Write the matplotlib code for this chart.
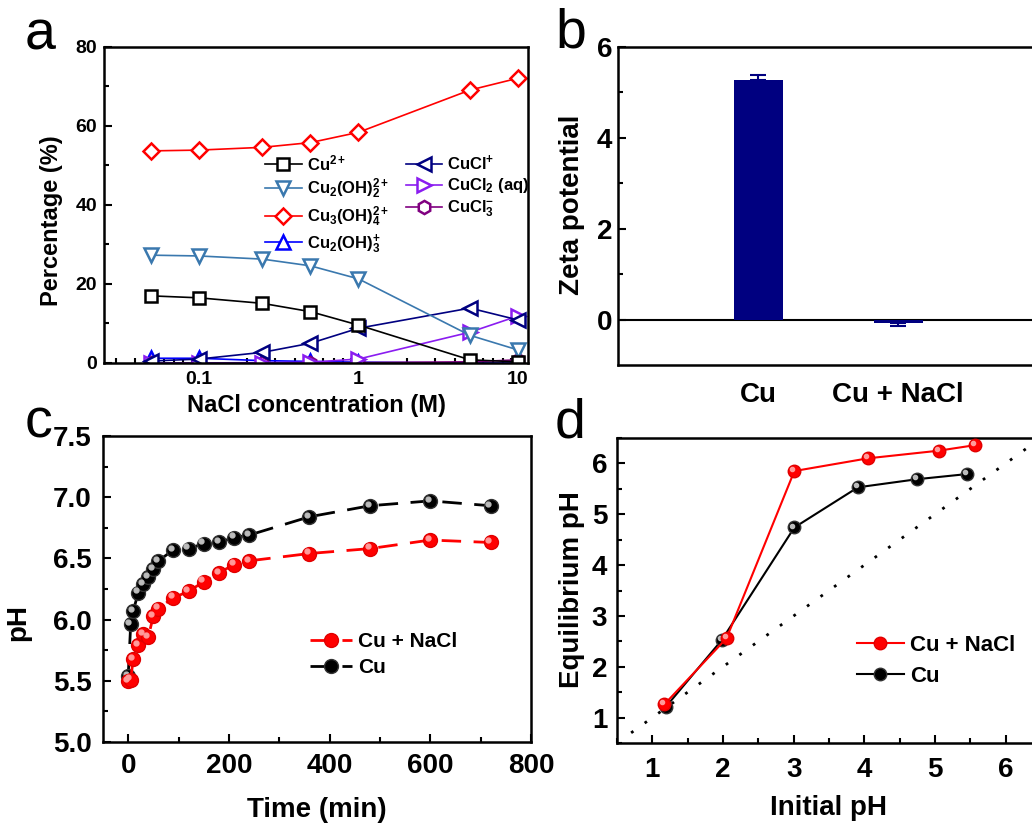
import matplotlib
matplotlib.use("Agg")
import matplotlib.pyplot as plt
import numpy as np
from matplotlib.ticker import MultipleLocator, FixedLocator, NullFormatter, LogLocator
from matplotlib.transforms import offset_copy

plt.rcParams['font.family'] = 'Liberation Sans'
plt.rcParams['font.weight'] = 'bold'
plt.rcParams['mathtext.fontset'] = 'custom'
plt.rcParams['mathtext.rm'] = 'Liberation Sans:bold'
plt.rcParams['mathtext.it'] = 'Liberation Sans:bold'
plt.rcParams['mathtext.bf'] = 'Liberation Sans:bold'
plt.rcParams['axes.linewidth'] = 1.8

# ---- panel a: species distribution
nacl = [0.05, 0.1, 0.25, 0.5, 1, 5, 10]
cu2 = [17.0, 16.5, 15.1, 13.0, 9.6, 0.8, 0.3]
cu2oh2 = [27.3, 27.1, 26.3, 24.6, 21.3, 7.0, 3.3]
cu3oh4 = [53.7, 53.9, 54.6, 55.8, 58.4, 69.1, 72.1]
cu2oh3 = [1.2, 1.2, 0.6, 0.4, 0.2, 0.0, 0.0]
cucl = [0.5, 1.0, 2.7, 5.0, 8.8, 13.9, 10.9]
cucl2 = [0.0, 0.0, 0.1, 0.2, 1.0, 7.8, 11.9]
cucl3 = [0.0, 0.0, 0.0, 0.0, 0.1, 0.3, 0.8]
species_labels = [r'Cu$^{2+}$', r'Cu$_2$(OH)$_2^{2+}$', r'Cu$_3$(OH)$_4^{2+}$',
                  r'Cu$_2$(OH)$_3^{+}$', r'CuCl$^{+}$', r'CuCl$_2$ (aq)', r'CuCl$_3^{-}$']

# ---- panel b: zeta potential
zeta_cats = ['Cu', 'Cu + NaCl']
zeta_vals = [5.28, -0.08]
zeta_err_lo = [0.0, 0.07]
zeta_err_hi = [0.10, 0.0]

# ---- panel c: pH vs time
t_nacl = [0, 5, 10, 20, 30, 40, 50, 60, 90, 120, 150, 180, 210, 240, 360, 480, 600, 720]
ph_nacl = [5.50, 5.51, 5.68, 5.79, 5.88, 5.86, 6.03, 6.09, 6.18, 6.23, 6.31, 6.38, 6.45, 6.48,
           6.54, 6.58, 6.65, 6.63]
t_cu = [0, 5, 10, 20, 30, 40, 50, 60, 90, 120, 150, 180, 210, 240, 360, 480, 600, 720]
ph_cu = [5.54, 5.96, 6.07, 6.22, 6.29, 6.35, 6.41, 6.48, 6.57, 6.58, 6.62, 6.63, 6.67, 6.69,
         6.84, 6.93, 6.97, 6.93]

# ---- panel d: equilibrium pH
init_nacl = [1.17, 2.05, 3.01, 4.05, 5.05, 5.57]
eq_nacl = [1.26, 2.56, 5.85, 6.10, 6.25, 6.36]
init_cu = [1.19, 1.98, 3.01, 3.91, 4.75, 5.45]
eq_cu = [1.21, 2.52, 4.74, 5.53, 5.69, 5.79]

W, H = 1032, 825
fig = plt.figure(figsize=(W / 100, H / 100), dpi=100)


def box(l, r, t, b):
    return [l / W, 1 - b / H, (r - l) / W, (b - t) / H]


def style_ticks(ax, size, padx, pady):
    ax.tick_params(which='both', direction='in', top=False, right=False, width=1.5)
    ax.tick_params(which='major', length=6)
    ax.tick_params(which='minor', length=3.5)
    ax.tick_params(axis='x', labelsize=size, pad=padx)
    ax.tick_params(axis='y', labelsize=size, pad=pady)


def place_labels(ax, xl, yl, xpos, ypos, size):
    ax.set_xlabel(xl, fontsize=size, fontweight='bold')
    ax.set_ylabel(yl, fontsize=size, fontweight='bold')
    ax.xaxis.label.set(va='center', ha='center')
    ax.yaxis.label.set(va='center', ha='center')
    ax.xaxis.set_label_coords(*xpos)
    ax.yaxis.set_label_coords(*ypos)


# ================= a
ax = fig.add_axes(box(104, 528, 47, 363))
series = [cu2, cu2oh2, cu3oh4, cu2oh3, cucl, cucl2, cucl3]
colors = ['black', '#3a78ae', '#ff0000', '#0000ff', '#000080', '#8a1cf0', '#800080']
markers = ['s', 'v', 'D', '^', '<', '>', 'h']
msizes = [8.5, 10.5, 8.5, 10.5, 10.5, 10.5, 9.5]
order = [3, 6, 5, 4, 1, 0, 2]
handles = [None] * 7
for i in order:
    handles[i], = ax.plot(nacl, series[i], color=colors[i], marker=markers[i], ms=msizes[i],
                          mfc='white', mec=colors[i], mew=1.8, lw=1.2, label=species_labels[i])
ax.set_xscale('log')
ax.set_xlim(0.0254, 11.55)
ax.set_ylim(0, 80)
ax.set_xticks([0.1, 1, 10])
ax.set_xticklabels(['0.1', '1', '10'])
ax.xaxis.set_minor_locator(LogLocator(base=10, subs=np.arange(2, 10)))
ax.xaxis.set_minor_formatter(NullFormatter())
ax.yaxis.set_major_locator(MultipleLocator(20))
ax.yaxis.set_minor_locator(MultipleLocator(10))
style_ticks(ax, 14, 6, 5)
place_labels(ax, 'NaCl concentration (M)', 'Percentage (%)', (0.502, -0.133), (-0.123, 0.449), 17)
ax.legend(handles=handles, ncol=2, loc='upper left', bbox_to_anchor=(0.38, 0.664), frameon=False,
          fontsize=12, handlelength=2.2, handletextpad=0.3, columnspacing=1.0, labelspacing=0.2,
          borderpad=0, borderaxespad=0)

# ================= b
ax = fig.add_axes(box(618, 1038, 47, 365))
xb = np.arange(1, len(zeta_cats) + 1)
ax.bar(xb, zeta_vals, width=0.35, color='#000080', zorder=2)
ax.errorbar(xb, zeta_vals, yerr=[zeta_err_lo, zeta_err_hi], fmt='none', ecolor='#000080',
            elinewidth=1.5, capsize=6, capthick=1.5, zorder=3)
ax.axhline(0, color='black', lw=1.5, zorder=1)
ax.set_xlim(0, 3)
ax.set_ylim(-1, 6)
ax.set_xticks(xb)
ax.set_xticklabels(zeta_cats)
ax.yaxis.set_major_locator(FixedLocator([0, 2, 4, 6]))
ax.yaxis.set_minor_locator(FixedLocator([1, 3, 5]))
style_ticks(ax, 20, 12, 4)
ax.tick_params(axis='x', length=0)
ax.set_ylabel('Zeta potential', fontsize=20, fontweight='bold')
ax.yaxis.label.set(va='center', ha='center')
ax.yaxis.set_label_coords(-0.1095, 0.503)

# ================= c
ax = fig.add_axes(box(103, 531, 436, 742))
ax.plot(t_cu, ph_cu, color='black', lw=2, dashes=(7, 4.5), marker='o', ms=10,
        mfc='black', mec='#333333', label='Cu', zorder=2)
ax.plot(t_nacl, ph_nacl, color='#ff0000', lw=2, dashes=(7, 4.5), marker='o', ms=10,
        mfc='#ff0000', mec='#e00000', label='Cu + NaCl', zorder=3)
hl = offset_copy(ax.transData, fig=fig, x=-1.6, y=1.6, units='points')
ax.plot(t_cu, ph_cu, 'o', ms=3.5, color='#bbbbbb', transform=hl, zorder=2.5)
ax.plot(t_nacl, ph_nacl, 'o', ms=3.5, color='#ff9a9a', transform=hl, zorder=3.5)
ax.set_xlim(-50, 800)
ax.set_ylim(5.0, 7.5)
ax.xaxis.set_major_locator(MultipleLocator(200))
ax.xaxis.set_minor_locator(MultipleLocator(100))
ax.yaxis.set_major_locator(MultipleLocator(0.5))
ax.yaxis.set_minor_locator(MultipleLocator(0.25))
ax.yaxis.set_major_formatter(matplotlib.ticker.FormatStrFormatter('%.1f'))
style_ticks(ax, 20, 8, 8)
place_labels(ax, 'Time (min)', 'pH', (0.5, -0.222), (-0.199, 0.392), 20)
hs, ls = ax.get_legend_handles_labels()
ax.legend(hs[::-1], ls[::-1], loc='upper left', bbox_to_anchor=(0.484, 0.36), frameon=False,
          fontsize=15, handlelength=2.0, handletextpad=0.3, labelspacing=0.35,
          borderpad=0, borderaxespad=0)

# ================= d
ax = fig.add_axes(box(617, 1041, 438, 743))
ref = np.array([0.7, 6.3])
ax.plot(ref, ref, color='black', lw=2, linestyle=(0, (1, 5)), zorder=1)
ax.plot(init_cu, eq_cu, color='black', lw=1.5, marker='o', ms=9, mfc='black',
        mec='#333333', label='Cu', zorder=2)
ax.plot(init_nacl, eq_nacl, color='#ff0000', lw=1.5, marker='o', ms=9, mfc='#ff0000',
        mec='#e00000', label='Cu + NaCl', zorder=3)
hl = offset_copy(ax.transData, fig=fig, x=-1.4, y=1.4, units='points')
ax.plot(init_cu, eq_cu, 'o', ms=3, color='#bbbbbb', transform=hl, zorder=2.5)
ax.plot(init_nacl, eq_nacl, 'o', ms=3, color='#ff9a9a', transform=hl, zorder=3.5)
ax.set_xlim(0.5, 6.5)
ax.set_ylim(0.5, 6.5)
ax.xaxis.set_major_locator(MultipleLocator(1))
ax.xaxis.set_minor_locator(MultipleLocator(0.5))
ax.yaxis.set_major_locator(MultipleLocator(1))
ax.yaxis.set_minor_locator(MultipleLocator(0.5))
style_ticks(ax, 20, 10, 7)
place_labels(ax, 'Initial pH', 'Equilibrium pH', (0.498, -0.213), (-0.106, 0.502), 20)
hs, ls = ax.get_legend_handles_labels()
ax.legend(hs[::-1], ls[::-1], loc='upper left', bbox_to_anchor=(0.566, 0.354), frameon=False,
          fontsize=16, handlelength=2.1, handletextpad=0.27, labelspacing=0.45,
          borderpad=0, borderaxespad=0)

# panel letters
for letter, (px, py) in zip('abcd', [(25, 50), (555, 48), (25, 437), (555, 437)]):
    fig.text(px / W, 1 - py / H, letter, fontsize=40, fontweight='normal',
             ha='left', va='baseline')

fig.savefig('out.png', dpi=100)
